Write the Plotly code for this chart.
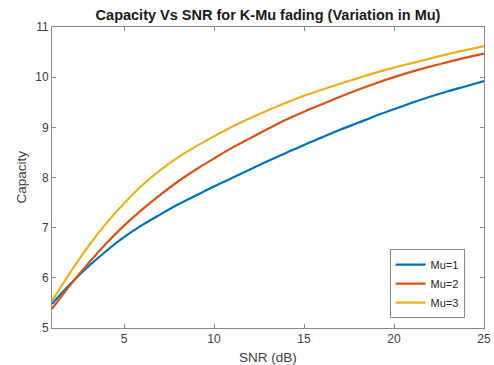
import plotly.graph_objects as go

snr = list(range(1, 26))
mu1 = [5.48, 5.87, 6.22, 6.53, 6.81, 7.05, 7.26, 7.46, 7.64, 7.82,
       7.99, 8.16, 8.33, 8.49, 8.65, 8.80, 8.95, 9.09, 9.23, 9.36,
       9.49, 9.61, 9.72, 9.82, 9.92]
mu2 = [5.38, 5.85, 6.28, 6.68, 7.04, 7.36, 7.65, 7.92, 8.16, 8.38,
       8.59, 8.78, 8.97, 9.15, 9.31, 9.46, 9.61, 9.75, 9.88, 10.00,
       10.11, 10.21, 10.30, 10.39, 10.47]
mu3 = [5.54, 6.10, 6.62, 7.08, 7.48, 7.84, 8.14, 8.40, 8.62, 8.82,
       9.01, 9.18, 9.34, 9.49, 9.63, 9.75, 9.87, 9.98, 10.09, 10.19,
       10.28, 10.37, 10.46, 10.54, 10.62]

names = ["Mu=1", "Mu=2", "Mu=3"]
colors = ["#0072BD", "#D95319", "#EDB120"]

fig = go.Figure()
for name, ys, c in zip(names, [mu1, mu2, mu3], colors):
    fig.add_trace(go.Scatter(x=snr, y=ys, mode="lines", name=name,
                             line=dict(color=c, width=2.2, shape="spline", smoothing=1.0)))

axis_common = dict(showgrid=False, zeroline=False, showline=True, linecolor="#8a8a8a",
                   linewidth=1, mirror="ticks", ticks="inside", ticklen=4, tickcolor="#8a8a8a",
                   automargin=False,
                   tickfont=dict(family="Liberation Sans, Arial", size=12, color="#404040"))

fig.update_layout(
    width=494, height=365,
    margin=dict(l=52, r=10, t=27, b=37, autoexpand=False),
    paper_bgcolor="white", plot_bgcolor="white",
    font=dict(family="Liberation Sans, Arial", color="#262626"),
    title=dict(text="<b>Capacity Vs SNR for K-Mu fading (Variation in Mu)</b>",
               x=268 / 494, xanchor="center", y=1 - 15 / 365, yanchor="middle",
               font=dict(size=14.5, color="#1a1a1a")),
    xaxis=dict(range=[1, 25], tickvals=[5, 10, 15, 20, 25],
               title=dict(text="SNR (dB)", font=dict(size=13.5, color="#404040")),
               **axis_common),
    yaxis=dict(range=[5, 11], tickvals=[5, 6, 7, 8, 9, 10, 11], **axis_common),
    annotations=[dict(text="Capacity", textangle=-90, xref="paper", yref="paper",
                      x=-31 / 432, y=0.5, xanchor="center", yanchor="middle",
                      showarrow=False, font=dict(size=13.5, color="#404040"))],
    legend=dict(x=0.955, y=0.033, xanchor="right", yanchor="bottom",
                bgcolor="white", bordercolor="#8a8a8a", borderwidth=1,
                font=dict(size=11, color="#262626"), tracegroupgap=0),
    showlegend=True,
)

fig.write_html("out.html", config={"displayModeBar": False},
               post_script="document.body.style.margin='0';document.body.style.overflow='hidden';")
